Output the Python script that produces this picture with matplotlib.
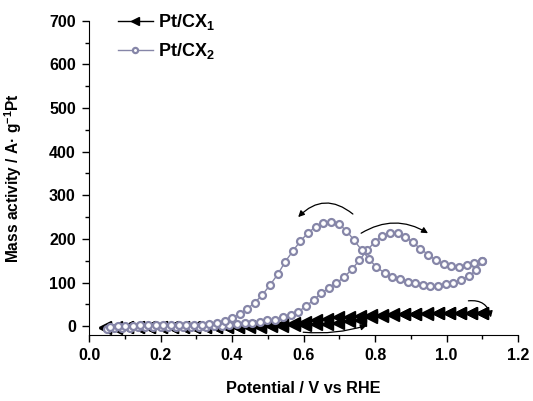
import matplotlib
matplotlib.use('Agg')
import matplotlib.pyplot as plt

plt.rcParams['font.family'] = ['Liberation Sans', 'DejaVu Sans']
plt.rcParams['font.weight'] = 'bold'
plt.rcParams['mathtext.fontset'] = 'custom'
plt.rcParams['mathtext.rm'] = 'Liberation Sans:bold'
plt.rcParams['mathtext.bf'] = 'Liberation Sans:bold'
plt.rcParams['mathtext.default'] = 'bf'

# Pt/CX2 - anodic sweep
cx2_fwd_v = [0.050, 0.071, 0.093, 0.114, 0.136, 0.157, 0.178, 0.200, 0.221, 0.243,
             0.264, 0.285, 0.307, 0.328, 0.350, 0.371, 0.392, 0.414, 0.435, 0.457,
             0.478, 0.499, 0.521, 0.542, 0.564, 0.585, 0.606, 0.628, 0.649, 0.671,
             0.692, 0.713, 0.735, 0.756, 0.778, 0.799, 0.820, 0.842, 0.863, 0.885,
             0.906, 0.927, 0.949, 0.970, 0.992, 1.013, 1.034, 1.056, 1.077, 1.099]
cx2_fwd_i = [-7, -5, -4, -4, -3, -3, -3, -3, -2, -2,
             -2, -2, -2, -1, 0, 1, 3, 5, 6, 8,
             10, 13, 15, 20, 26, 33, 45, 60, 75, 88,
             99, 112, 130, 151, 174, 193, 207, 214, 213, 205,
             192, 177, 164, 151, 142, 138, 136, 139, 145, 150]

# Pt/CX2 - cathodic sweep
cx2_rev_v = [1.099, 1.083, 1.062, 1.041, 1.019, 0.998, 0.976, 0.955, 0.934, 0.913,
             0.891, 0.870, 0.848, 0.827, 0.804, 0.784, 0.763, 0.741, 0.720, 0.698,
             0.677, 0.655, 0.634, 0.613, 0.591, 0.570, 0.549, 0.528, 0.506, 0.485,
             0.464, 0.443, 0.421, 0.400, 0.379, 0.357, 0.336, 0.315, 0.293, 0.272,
             0.251, 0.229, 0.208, 0.187, 0.165, 0.144, 0.123, 0.101, 0.080, 0.059]
cx2_rev_i = [150, 128, 115, 106, 99, 96, 93, 93, 95, 98,
             102, 108, 113, 122, 135, 153, 174, 197, 219, 234,
             239, 237, 228, 214, 195, 172, 148, 119, 94, 72,
             54, 40, 28, 19, 11, 6, 4, 3, 3, 2,
             2, 2, 2, 2, 2, 2, 1, 1, 0, -1]

# Pt/CX1 - anodic and cathodic sweeps
cx1_fwd_v = [0.045, 0.076, 0.107, 0.138, 0.169, 0.200, 0.231, 0.262, 0.293, 0.324,
             0.355, 0.386, 0.417, 0.448, 0.479, 0.510, 0.541, 0.572, 0.603, 0.634,
             0.665, 0.696, 0.727, 0.758, 0.789, 0.820, 0.851, 0.882, 0.913, 0.944,
             0.975, 1.006, 1.037, 1.068, 1.099]
cx1_fwd_i = [-4, -4, -3, -3, -3, -3, -3, -3, -3, -3,
             -3, -3, -2, -2, -1, 0, 1, 2, 3, 4,
             5, 7, 11, 15, 21, 24, 26, 27, 28, 28,
             29, 30, 30, 31, 31]
cx1_rev_v = [1.099, 1.068, 1.037, 1.006, 0.975, 0.944, 0.913, 0.882, 0.851, 0.820,
             0.789, 0.758, 0.727, 0.696, 0.665, 0.634, 0.603, 0.572, 0.541, 0.510,
             0.479, 0.448, 0.417, 0.386, 0.355, 0.324, 0.293, 0.262, 0.231, 0.200,
             0.169, 0.138, 0.107, 0.076, 0.045]
cx1_rev_i = [31, 31, 30, 30, 30, 29, 28, 28, 27, 26,
             25, 23, 22, 20, 17, 13, 9, 6, 4, 2,
             1, 0, -1, -1, -2, -2, -2, -2, -2, -2,
             -2, -2, -2, -3, -3]

purple = '#8686a8'

fig = plt.figure(figsize=(5.33, 4.01), dpi=100)
ax = fig.add_axes([0.167, 0.165, 0.805, 0.783])

ax.plot(cx1_fwd_v + cx1_rev_v, cx1_fwd_i + cx1_rev_i, color='black', lw=1,
        marker='<', ms=8, mfc='black', mec='black', label='Pt/CX$_1$', zorder=2)
ax.plot(cx2_fwd_v + cx2_rev_v, cx2_fwd_i + cx2_rev_i, color=purple, lw=1,
        marker='o', ms=5, mfc='white', mec=purple, mew=1.6, label='Pt/CX$_2$', zorder=3)

# sweep direction arrows
arr = dict(arrowstyle='-|>', color='black', lw=0.9, mutation_scale=9, shrinkA=0, shrinkB=0)
ax.annotate('', xy=(0.585, 250), xytext=(0.738, 257),
            arrowprops=dict(arr, connectionstyle='arc3,rad=0.45'))
ax.annotate('', xy=(0.948, 213), xytext=(0.761, 213),
            arrowprops=dict(arr, connectionstyle='arc3,rad=-0.3'))
ax.annotate('', xy=(1.124, 20), xytext=(1.061, 58),
            arrowprops=dict(arr, connectionstyle='arc3,rad=-0.45'))
ax.annotate('', xy=(0.777, 2), xytext=(0.599, -14),
            arrowprops=dict(arr, connectionstyle='arc3,rad=0.1'))

ax.set_xlim(0.0, 1.2)
ax.set_ylim(-20, 700)
ax.set_xticks([0.0, 0.2, 0.4, 0.6, 0.8, 1.0, 1.2])
ax.set_xticks([0.1, 0.3, 0.5, 0.7, 0.9, 1.1], minor=True)
ax.set_yticks([0, 100, 200, 300, 400, 500, 600, 700])
ax.set_yticks([50, 150, 250, 350, 450, 550, 650], minor=True)
ax.set_xticklabels(['0.0', '0.2', '0.4', '0.6', '0.8', '1.0', '1.2'])
ax.tick_params(which='major', direction='out', length=5, width=1, labelsize=11.5, pad=4.5)
ax.tick_params(which='minor', direction='out', length=3, width=1)
ax.spines['top'].set_visible(False)
ax.spines['right'].set_visible(False)

ax.set_xlabel('Potential / V vs RHE', fontsize=11.7, fontweight='bold', labelpad=13)
ax.set_ylabel('Mass activity / A\u00b7 g$^{-1}$Pt', fontsize=11.2, fontweight='bold', labelpad=18)

fig.legend(loc='upper left', bbox_to_anchor=(0.205, 0.993), frameon=False, borderpad=0,
           prop={'weight': 'bold', 'size': 13}, handlelength=1.9, handletextpad=0.3,
           labelspacing=0.5, markerscale=0.75)

plt.savefig('out.png', dpi=100)
